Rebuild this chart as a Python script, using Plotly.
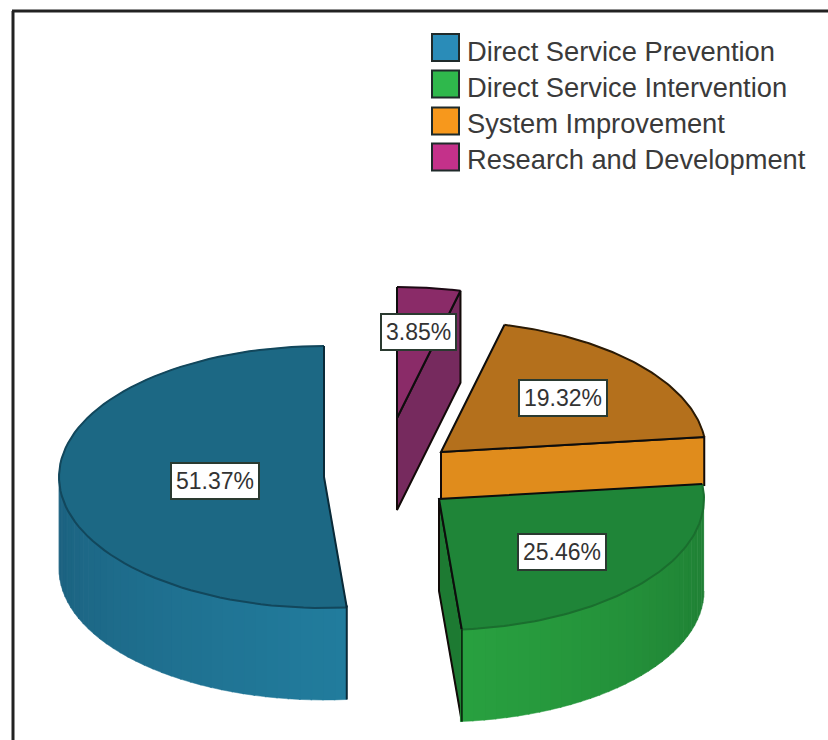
import numpy as np
import plotly.graph_objects as go

# ---- data ----
categories = ["Direct Service Prevention", "Direct Service Intervention",
              "System Improvement", "Research and Development"]
percents = [51.37, 25.46, 19.32, 3.85]

# ---- styles ----
legend_colors = ["#2a8cb8", "#2fb84c", "#f7981c", "#c4318a"]
top_colors = ["#1c6884", "#1f8538", "#b4701c", "#8a2b68"]
cut_colors = [None, "#1d7a32", "#e08c1c", "#762a5e"]
arc_colors = ["#12475c", "#1a6e2e", "#2a1a05", "#1c0a14"]
wall_light = ["#227d9e", "#29a140", None, None]
wall_dark = ["#1c6280", "#1e7c33", None, None]
explode_dx = [0, 115, 117, 73]
explode_dy = [0, 22, -25, -59]
cut_depth = [0, 92, 48, 92]
label_xy = [(215, 481), (562, 552), (563, 398), (418, 332)]
CX, CY, RX, RY, DEPTH = 324, 477, 265, 131, 92


def rim(theta, cx, cy):
    t = np.radians(theta)
    return cx + RX * np.sin(t), cy - RY * np.cos(t)


def hex_rgb(h):
    return np.array([int(h[i:i + 2], 16) for i in (1, 3, 5)], dtype=float)


def mix(a, b, f):
    c = hex_rgb(a) * (1 - f) + hex_rgb(b) * f
    return "rgb(%d,%d,%d)" % tuple(c)


fig = go.Figure()


def poly(xs, ys, color):
    fig.add_trace(go.Scatter(x=list(xs), y=list(ys), mode="lines", fill="toself",
                             fillcolor=color, line=dict(width=0.5, color=color),
                             hoverinfo="skip", showlegend=False))


def stroke(xs, ys, color, width=2):
    fig.add_trace(go.Scatter(x=list(xs), y=list(ys), mode="lines",
                             line=dict(width=width, color=color),
                             hoverinfo="skip", showlegend=False))


# cumulative angles, clockwise-from-top measure; first category ends at 360
ends = 360 - np.cumsum([0] + [p * 3.6 / (sum(percents) / 100) for p in percents])
spans = [(ends[i + 1], ends[i]) for i in range(len(percents))]

for i in [3, 2, 1, 0]:
    a0, a1 = spans[i]
    cx, cy = CX + explode_dx[i], CY + explode_dy[i]
    th = np.linspace(a0, a1, 80)
    rx_, ry_ = rim(th, cx, cy)

    # radial cut face seen at the high-angle edge of the slice
    if i in (1, 2, 3):
        ex, ey = rim(a1, cx, cy)
        d = cut_depth[i]
        poly([cx, ex, ex, cx], [cy, ey, ey + d, cy + d], cut_colors[i])
        stroke([cx, ex, ex, cx, cx], [cy, ey, ey + d, cy + d, cy], "#120a08")

    # outer wall, shaded strip by strip
    if wall_light[i]:
        lo, hi = max(a0, 90), min(a1, 270)
        edges = np.arange(lo, hi + 2.5, 2.5)
        edges[-1] = hi
        for s0, s1 in zip(edges[:-1], edges[1:]):
            f = abs((s0 + s1) / 2 - 175) / 90
            sx0, sy0 = rim(np.linspace(s0, s1 + 0.3, 4), cx, cy)
            xs = list(sx0) + list(sx0[::-1])
            ys = list(sy0) + list((sy0 + DEPTH)[::-1])
            poly(xs, ys, mix(wall_light[i], wall_dark[i], min(f, 1)))

    # top face
    poly([cx] + list(rx_) + [cx], [cy] + list(ry_) + [cy], top_colors[i])
    stroke(rx_, ry_, arc_colors[i], 2)
    ax0, ay0 = rim(a0, cx, cy)
    ax1, ay1 = rim(a1, cx, cy)
    stroke([ax0, cx, ax1], [ay0, cy, ay1], "#0d0d0d" if i else "#0a2a38", 2)

# blue cut-edge on the wall
a = spans[0][0]
bx, by = rim(a, CX, CY)
stroke([bx, bx], [by - 2, by + DEPTH], "#0a2a38", 2)
green_a = spans[1][1]
gx, gy = rim(green_a, CX + explode_dx[1], CY + explode_dy[1])
stroke([gx, gx], [gy, gy + DEPTH], "#0b2a10", 2)

# legend swatches
legend_y = [47.5, 84, 121, 157]
fig.add_trace(go.Scatter(x=[445.5] * 4, y=legend_y, mode="markers",
                         marker=dict(symbol="square", size=27, color=legend_colors,
                                     line=dict(color="#1f2a2a", width=2)),
                         hoverinfo="text", text=categories, showlegend=False))

annotations = []
text_y = [51, 87, 123, 159]
for name, y in zip(categories, text_y):
    annotations.append(dict(x=465, y=y, xref="x", yref="y", text=name, showarrow=False,
                            xanchor="left", yanchor="middle",
                            font=dict(family="Liberation Sans", size=27.3, color="#3a3a3a")))
for p, (x, y) in zip(percents, label_xy):
    annotations.append(dict(x=x, y=y, xref="x", yref="y", text="%.2f%%" % p, showarrow=False,
                            font=dict(family="Liberation Sans", size=23, color="#333333"),
                            bgcolor="white", bordercolor="#2a3a30", borderwidth=2, borderpad=4))

frame = [dict(type="line", xref="x", yref="y", x0=13, x1=13, y0=11, y1=740,
              line=dict(color="#222222", width=3)),
         dict(type="line", xref="x", yref="y", x0=12, x1=828, y0=11, y1=11,
              line=dict(color="#222222", width=3))]

fig.update_layout(width=828, height=740, margin=dict(l=0, r=0, t=0, b=0),
                  paper_bgcolor="white", plot_bgcolor="white", showlegend=False,
                  xaxis=dict(range=[0, 828], visible=False, fixedrange=True),
                  yaxis=dict(range=[740, 0], visible=False, fixedrange=True),
                  annotations=annotations, shapes=frame)
fig.write_html("out.html", config={"displayModeBar": False},
               post_script="document.body.style.margin='0';document.body.style.overflow='hidden';")
